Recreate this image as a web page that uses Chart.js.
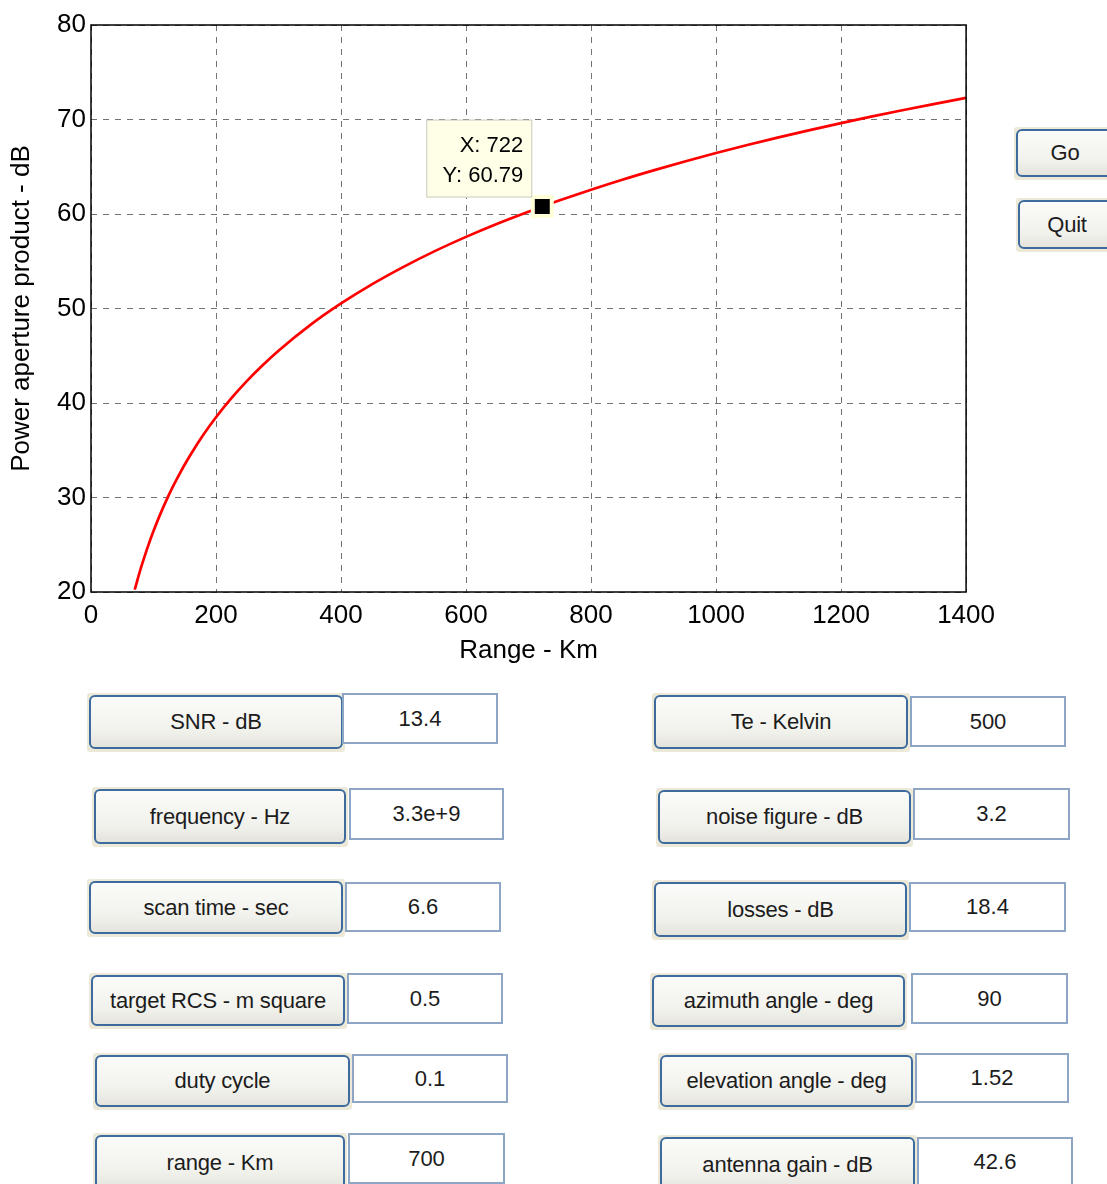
<!DOCTYPE html>
<html>
<head>
<meta charset="utf-8">
<script src="https://cdn.jsdelivr.net/npm/chart.js@4.4.1/dist/chart.umd.min.js"></script>
<style>
  html, body { margin: 0; padding: 0; background: #fff; }
  body { width: 1107px; height: 1184px; position: relative; overflow: hidden; font-family: "Liberation Sans", Arial, sans-serif; }
  #plot { position: absolute; left: 0; top: 0; }
  .frame { position: absolute; background: #ece9d8; border-radius: 3px; }
  .btn {
    position: absolute; left: 2px; top: 2px; right: 2px; bottom: 3px;
    border: 2px solid #3d6b9e; border-radius: 6px; box-sizing: border-box;
    background: linear-gradient(#fbfbf9, #f1f1ec 70%, #e4e3dc);
    color: #1c1c1c; font-size: 22px; letter-spacing: -0.2px;
    display: flex; align-items: center; justify-content: center; white-space: nowrap;
  }
  .box {
    position: absolute; background: #fff; border: 2px solid #8ea6c6; box-sizing: border-box;
    color: #1c1c1c; font-size: 22px;
    display: flex; align-items: center; justify-content: center;
  }
</style>
</head>
<body>
<canvas id="plot" width="1003" height="680"></canvas>
<div id="controls"></div>
<script>
// --- 데이터 ---
const rangeKm = [70, 75, 80, 90, 100, 110, 120, 130, 140, 150, 160, 180, 200, 225, 250, 275, 300, 350, 400, 450, 500, 550, 600, 650, 700, 722, 750, 800, 850, 900, 950, 1000, 1050, 1100, 1150, 1200, 1250, 1300, 1350, 1400];
const powerApertureDb = [20.25, 21.45, 22.57, 24.62, 26.45, 28.11, 29.62, 31.01, 32.29, 33.49, 34.61, 36.66, 38.49, 40.54, 42.37, 44.02, 45.53, 48.21, 50.53, 52.58, 54.41, 56.07, 57.58, 58.97, 60.25, 60.79, 61.45, 62.57, 63.63, 64.62, 65.56, 66.45, 67.30, 68.11, 68.88, 69.62, 70.33, 71.01, 71.66, 72.29];
const xTicks = [0, 200, 400, 600, 800, 1000, 1200, 1400];
const yTicks = [20, 30, 40, 50, 60, 70, 80];
const tipX = 722;
const tipY = 60.79;

// 입력 패널 라벨 / 값
const leftLabels = ['SNR - dB', 'frequency - Hz', 'scan time - sec', 'target RCS - m square', 'duty cycle', 'range - Km'];
const leftValues = ['13.4', '3.3e+9', '6.6', '0.5', '0.1', '700'];
const rightLabels = ['Te - Kelvin', 'noise figure - dB', 'losses - dB', 'azimuth angle - deg', 'elevation angle - deg', 'antenna gain - dB'];
const rightValues = ['500', '3.2', '18.4', '90', '1.52', '42.6'];
const sideButtons = ['Go', 'Quit'];

// --- 배치 (x, y, w, h) ---
const leftFrames = [[87, 693, 258, 59], [92, 787, 256, 60], [87, 879, 258, 58], [89, 973, 258, 56], [93, 1053, 259, 57], [93, 1133, 254, 60]];
const leftBoxes = [[342, 693, 156, 51], [349, 788, 155, 52], [345, 882, 156, 50], [347, 973, 156, 51], [352, 1054, 156, 49], [348, 1133, 157, 51]];
const rightFrames = [[652, 693, 258, 59], [656, 788, 257, 59], [652, 880, 257, 60], [650, 973, 257, 57], [658, 1053, 257, 57], [658, 1135, 259, 60]];
const rightBoxes = [[910, 696, 156, 51], [913, 788, 157, 52], [909, 882, 157, 50], [911, 973, 157, 51], [915, 1053, 154, 50], [917, 1137, 156, 50]];
const sideFrames = [[1014, 127, 102, 53], [1016, 198, 102, 54]];

const controls = document.getElementById('controls');

function place(el, r) {
    el.style.left = r[0] + 'px';
    el.style.top = r[1] + 'px';
    el.style.width = r[2] + 'px';
    el.style.height = r[3] + 'px';
}

function addButton(label, r) {
    const frame = document.createElement('div');
    frame.className = 'frame';
    place(frame, r);
    const b = document.createElement('div');
    b.className = 'btn';
    b.textContent = label;
    frame.appendChild(b);
    controls.appendChild(frame);
}

function addBox(value, r) {
    const box = document.createElement('div');
    box.className = 'box';
    place(box, r);
    box.textContent = value;
    controls.appendChild(box);
}

leftLabels.forEach((l, i) => { addButton(l, leftFrames[i]); addBox(leftValues[i], leftBoxes[i]); });
rightLabels.forEach((l, i) => { addButton(l, rightFrames[i]); addBox(rightValues[i], rightBoxes[i]); });
sideButtons.forEach((l, i) => addButton(l, sideFrames[i]));

// --- 축 테두리 + 데이터 팁 ---
const boxAndTip = {
    id: 'boxAndTip',
    afterDraw(chart) {
        const ctx = chart.ctx;
        const a = chart.chartArea;
        ctx.save();
        ctx.strokeStyle = '#000';
        ctx.lineWidth = 1.5;
        ctx.strokeRect(a.left, a.top, a.right - a.left, a.bottom - a.top);

        const px = chart.scales.x.getPixelForValue(tipX);
        const py = chart.scales.y.getPixelForValue(tipY);
        ctx.fillStyle = '#ffffe8';
        ctx.strokeStyle = '#c9c9bc';
        ctx.lineWidth = 1;
        ctx.fillRect(px - 115, py - 86, 105, 77);
        ctx.strokeRect(px - 115.5, py - 86.5, 105, 77);
        ctx.fillStyle = '#000';
        ctx.font = '22px "Liberation Sans", Arial, sans-serif';
        ctx.textAlign = 'right';
        ctx.textBaseline = 'alphabetic';
        ctx.fillText('X: ' + tipX, px - 19, py - 55);
        ctx.fillText('Y: ' + tipY.toFixed(2), px - 19, py - 25);
        ctx.restore();
    }
};

const axisFont = { family: '"Liberation Sans", Arial, sans-serif', size: 26 };

new Chart(document.getElementById('plot'), {
    type: 'scatter',
    data: {
        datasets: [
            {
                data: [{ x: tipX, y: tipY }],
                pointStyle: 'rect',
                pointRadius: 13.4,
                backgroundColor: '#000',
                borderColor: '#ffffd8',
                borderWidth: 4,
                order: 0
            },
            {
                data: rangeKm.map((r, i) => ({ x: r, y: powerApertureDb[i] })),
                showLine: true,
                borderColor: '#ff0000',
                borderWidth: 2.7,
                pointRadius: 0,
                cubicInterpolationMode: 'monotone',
                order: 1
            }
        ]
    },
    options: {
        responsive: false,
        animation: false,
        devicePixelRatio: 1,
        layout: { padding: { top: 25, right: 34, left: 0, bottom: 0 } },
        plugins: { legend: { display: false }, tooltip: { enabled: false } },
        scales: {
            x: {
                type: 'linear', min: 0, max: 1400,
                afterBuildTicks: s => { s.ticks = xTicks.map(v => ({ value: v })); },
                afterFit: s => { s.height = 88; },
                ticks: { color: '#000', font: axisFont, padding: 8, maxRotation: 0, callback: v => String(v) },
                grid: { color: 'rgba(0,0,0,0.55)', drawTicks: false, tickLength: 0 },
                border: { display: false, dash: [6, 6] },
                title: { display: true, text: 'Range - Km', color: '#000', font: axisFont, padding: { top: 0, bottom: 14 } }
            },
            y: {
                type: 'linear', min: 20, max: 80,
                afterBuildTicks: s => { s.ticks = yTicks.map(v => ({ value: v })); },
                afterFit: s => { s.width = 91; },
                ticks: { color: '#000', font: axisFont, padding: 5, callback: v => String(v) },
                grid: { color: 'rgba(0,0,0,0.55)', drawTicks: false, tickLength: 0 },
                border: { display: false, dash: [6, 6] },
                title: { display: true, text: 'Power aperture product - dB', color: '#000', font: axisFont, padding: { top: 6, bottom: 0 } }
            }
        }
    },
    plugins: [boxAndTip]
});
</script>
</body>
</html>
